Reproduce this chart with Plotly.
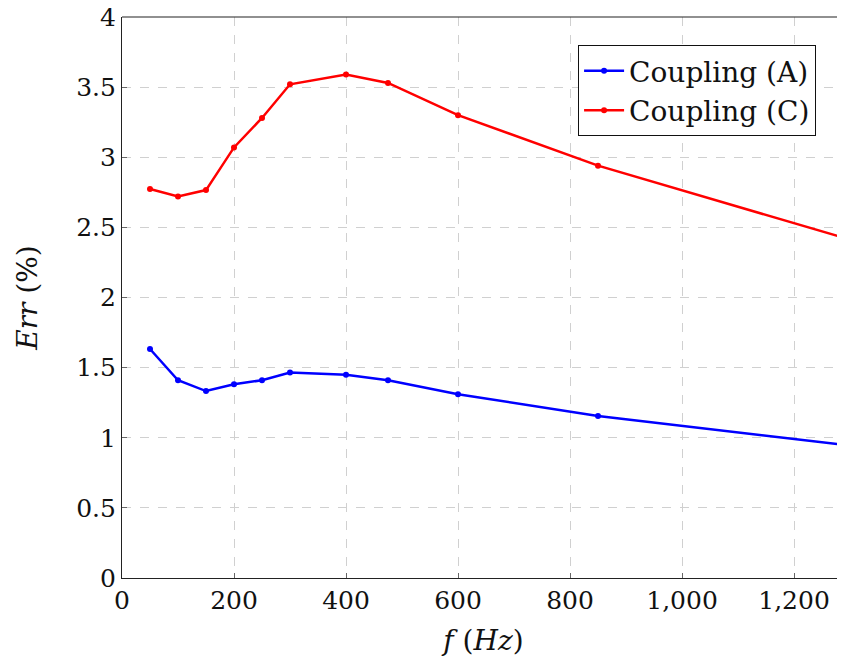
import plotly.graph_objects as go

freq = [50, 100, 150, 200, 250, 300, 400, 475, 600, 850, 1300]
coupling_a = [1.633, 1.41, 1.333, 1.382, 1.41, 1.465, 1.45, 1.41, 1.31, 1.155, 0.944]
coupling_c = [2.774, 2.72, 2.766, 3.07, 3.28, 3.52, 3.59, 3.53, 3.30, 2.94, 2.413]

FONT = "DejaVu Serif"

fig = go.Figure()
fig.add_trace(go.Scatter(x=freq, y=coupling_a, mode="lines+markers", name="Coupling (A)",
                         line=dict(color="#0000ff", width=2.5), marker=dict(size=6, color="#0000ff")))
fig.add_trace(go.Scatter(x=freq, y=coupling_c, mode="lines+markers", name="Coupling (C)",
                         line=dict(color="#ff0000", width=2.5), marker=dict(size=6, color="#ff0000")))

axis_common = dict(
    showgrid=True, gridcolor="#d0d0d0", griddash="dash", gridwidth=1,
    showline=True, linecolor="#222222", linewidth=1.2,
    ticks="inside", ticklen=5, tickcolor="#666666",
    zeroline=False, automargin=False, ticklabeloverflow="allow",
    tickfont=dict(family=FONT, size=25, color="#111111"),
)

fig.update_layout(
    width=837, height=654,
    margin=dict(l=114, r=0, t=9, b=84),
    paper_bgcolor="white", plot_bgcolor="white",
    font=dict(family=FONT, size=25, color="#111111"),
    showlegend=True,
    legend=dict(x=0.96, y=0.95, xanchor="right", yanchor="top",
                bordercolor="#111111", borderwidth=1, bgcolor="white",
                font=dict(family=FONT, size=28), tracegroupgap=0,
                itemwidth=40),
    xaxis=dict(range=[0, 1291], dtick=200, tickformat=",", mirror=False,
               title=dict(text="<i>f</i> (<i>Hz</i>)", font=dict(family=FONT, size=28), standoff=16),
               **axis_common),
    yaxis=dict(range=[0, 4], dtick=0.5, mirror=False,
               title=dict(text="<i>Err</i> (%)", font=dict(family=FONT, size=28), standoff=30),
               **axis_common),
)
# top border line
fig.add_shape(type="line", xref="paper", yref="paper", x0=0, x1=1, y0=1, y1=1,
              line=dict(color="#222222", width=1.2))

fig.write_html("out.html")
